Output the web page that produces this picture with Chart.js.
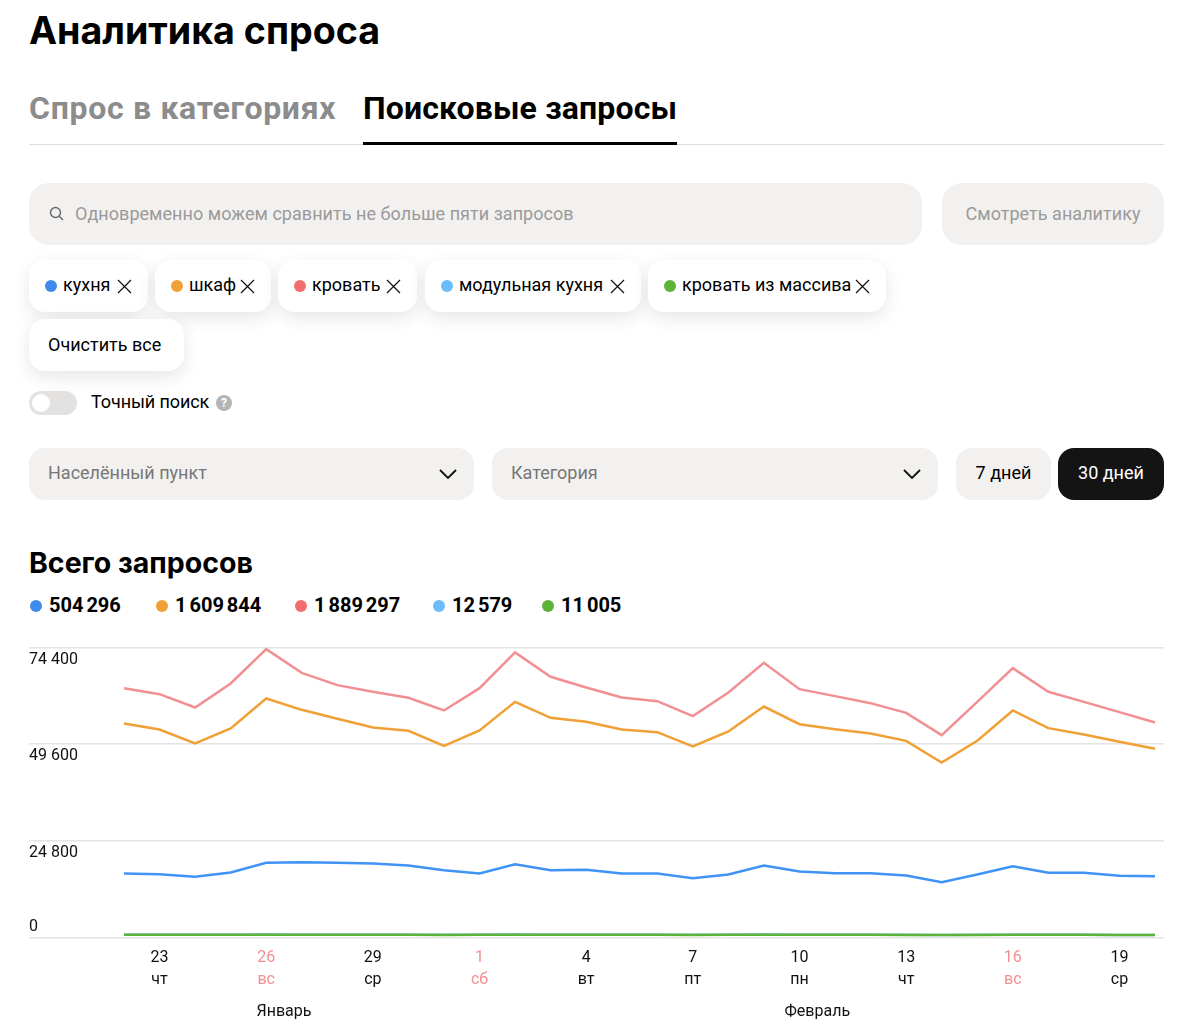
<!DOCTYPE html>
<html lang="ru">
<head>
<meta charset="utf-8">
<title>Аналитика спроса</title>
<script src="https://cdn.jsdelivr.net/npm/chart.js@4"></script>
<style>
    html, body { margin: 0; padding: 0; background: #fff; }
    body { position: relative; width: 1200px; height: 1033px; overflow: hidden; font-family: Roboto, sans-serif; color: #000; }
    .abs { position: absolute; white-space: nowrap; }
    .title { left: 29px; top: 8px; font-family: Inter, sans-serif; font-size: 37.6px; font-weight: 700; line-height: 46px; }
    .tab { top: 88px; font-size: 32px; font-weight: 700; line-height: 40px; }
    .box { background: #f2f1ef; border-radius: 20px; color: #9a9a9a; font-size: 18px; letter-spacing: .04px; display: flex; align-items: center; box-sizing: border-box; padding-bottom: 2px; }
    .chip { background: #fff; border-radius: 16px; box-shadow: 0 6px 18px rgba(0,0,0,.10); height: 52px; display: flex; align-items: center; font-size: 18px; box-sizing: border-box; padding: 0 16px 3px 16px; }
    .dot { width: 12px; height: 12px; border-radius: 50%; display: inline-block; }
    .chip .dot { margin-right: 6px; margin-top: 3px; }
    .chip svg { margin-left: auto; margin-top: 3px; }
    .select { background: #f2f1ef; border-radius: 16px; top: 448px; height: 52px; color: #777; font-size: 18px; display: flex; align-items: center; justify-content: space-between; box-sizing: border-box; padding: 0 17px 3px 19px; }
    .select svg { margin-top: 3px; }
    .period { top: 448px; height: 52px; border-radius: 16px; font-size: 18px; display: flex; align-items: center; justify-content: center; box-sizing: border-box; padding-bottom: 3px; }
    .total { top: 592px; font-size: 20px; font-weight: 700; line-height: 26px; word-spacing: -2px; }
    #chart-wrap { position: absolute; left: 29px; top: 630px; width: 1135px; height: 403px; }
</style>
</head>
<body>
<div class="abs title">Аналитика спроса</div>
<div class="abs tab" style="left:29px;color:#8c8c8c;letter-spacing:.7px">Спрос в категориях</div>
<div class="abs tab" style="left:363px;letter-spacing:.15px">Поисковые запросы</div>
<div class="abs" style="left:29px;top:144px;width:1135px;height:1px;background:#dcdcdc"></div>
<div class="abs" style="left:363px;top:142px;width:314px;height:3px;background:#000"></div>

<div class="abs box" style="left:29px;top:183px;width:893px;height:62px;padding-left:20px">
    <svg width="15" height="15" viewBox="0 0 15 15" fill="none" stroke="#666" stroke-width="1.4"><circle cx="6.5" cy="6.5" r="5"/><path d="M10.2 10.2 L14 14"/></svg>
    <span style="margin-left:11px">Одновременно можем сравнить не больше пяти запросов</span>
</div>
<div class="abs box" style="left:942px;top:183px;width:222px;height:62px;justify-content:center">Смотреть аналитику</div>

<div id="chips"></div>
<div class="abs chip" style="left:29px;top:319px;width:155px;padding:0 0 1px 19px">Очистить все</div>

<div class="abs" style="left:29px;top:391px;width:48px;height:24px;border-radius:12px;background:#e3e2e0"></div>
<div class="abs" style="left:32px;top:394px;width:18px;height:18px;border-radius:50%;background:#fff"></div>
<div class="abs" style="left:91px;top:391px;font-size:18px;line-height:22px;letter-spacing:-.1px">Точный поиск</div>
<div class="abs" style="left:216px;top:395px;width:16px;height:16px;border-radius:50%;background:#b5b5b5;color:#fff;font-size:12px;font-weight:700;line-height:16px;text-align:center">?</div>

<div class="abs select" style="left:29px;width:445px">Населённый пункт
    <svg width="18" height="10" viewBox="0 0 18 10" fill="none" stroke="#111" stroke-width="1.8"><path d="M1 1 L9 9 L17 1"/></svg>
</div>
<div class="abs select" style="left:492px;width:446px">Категория
    <svg width="18" height="10" viewBox="0 0 18 10" fill="none" stroke="#111" stroke-width="1.8"><path d="M1 1 L9 9 L17 1"/></svg>
</div>
<div class="abs period" style="left:956px;width:95px;background:#f2f1ef">7 дней</div>
<div class="abs period" style="left:1058px;width:106px;background:#141414;color:#fff">30 дней</div>

<div class="abs" style="left:29px;top:545px;font-family:Inter,sans-serif;font-size:28.5px;font-weight:700;line-height:36px">Всего запросов</div>
<div id="totals"></div>

<div id="chart-wrap"><canvas id="chart"></canvas></div>

<script>
const dates = ["22", "23", "24", "25", "26", "27", "28", "29", "30", "31", "1", "2", "3", "4", "5", "6", "7", "8", "9", "10", "11", "12", "13", "14", "15", "16", "17", "18", "19", "20"];
const weekdays = ["ср", "чт", "пт", "сб", "вс", "пн", "вт", "ср", "чт", "пт", "сб", "вс", "пн", "вт", "ср", "чт", "пт", "сб", "вс", "пн", "вт", "ср", "чт", "пт", "сб", "вс", "пн", "вт", "ср", "чт"];
const tickIndexes = [1, 4, 7, 10, 13, 16, 19, 22, 25, 28];
const redTicks = [4, 10, 25];
const months = ["Январь", "Февраль"];
const monthPositions = [4.5, 19.5];

const queries = ["кухня", "шкаф", "кровать", "модульная кухня", "кровать из массива"];
const totals = ["504 296", "1 609 844", "1 889 297", "12 579", "11 005"];
const dotColors = ["#3f8bec", "#f0a035", "#f26d6d", "#6bbcfb", "#5db336"];

const kitchen = [16420, 16250, 15560, 16680, 19160, 19330, 19160, 18990, 18470, 17280, 16420, 18810, 17280, 17360, 16420, 16420, 15220, 16160, 18470, 16930, 16510, 16510, 15910, 14200, 16160, 18300, 16590, 16590, 15820, 15740];
const wardrobe = [54900, 53360, 49770, 53620, 61320, 58410, 56100, 53880, 53020, 49170, 53110, 60460, 56360, 55330, 53360, 52680, 49000, 52850, 59260, 54730, 53450, 52340, 50460, 44900, 50460, 58240, 53710, 52080, 50200, 48400];
const bed = [63970, 62430, 59010, 65170, 73975, 67900, 64740, 63030, 61490, 58240, 63970, 73120, 66880, 64140, 61570, 60630, 56790, 62860, 70470, 63710, 61920, 60120, 57640, 51910, 60460, 69100, 63030, 60460, 57810, 55160];
const modularKitchen = [720, 700, 690, 700, 740, 730, 730, 720, 720, 680, 700, 740, 710, 710, 690, 690, 680, 700, 740, 720, 710, 700, 680, 650, 680, 720, 700, 690, 670, 640];
const solidBed = [710, 690, 680, 690, 730, 720, 720, 710, 700, 670, 690, 730, 700, 700, 680, 680, 670, 690, 730, 710, 700, 690, 670, 640, 670, 710, 690, 680, 660, 630];

const yTicks = [0, 24800, 49600, 74400];

// chips and totals above the chart
const chipLefts = [29, 155, 278, 425, 648];
const chipWidths = [119, 116, 139, 216, 238];
const totalLefts = [30, 156, 295, 433, 542];
const crossIcon = '<svg width="15" height="15" viewBox="0 0 15 15" fill="none" stroke="#111" stroke-width="1.2"><path d="M1 1 L14 14 M14 1 L1 14"/></svg>';

document.getElementById("chips").innerHTML = queries.map((q, i) =>
    `<div class="abs chip" style="left:${chipLefts[i]}px;top:260px;width:${chipWidths[i]}px"><span class="dot" style="background:${dotColors[i]}"></span>${q}${crossIcon}</div>`
).join("");
document.getElementById("totals").innerHTML = totals.map((t, i) =>
    `<div class="abs total" style="left:${totalLefts[i]}px"><span class="dot" style="background:${dotColors[i]};margin-right:7px"></span>${t}</div>`
).join("");

function toPoints(values) {
    return values.map((v, i) => ({ x: i, y: v }));
}

function lineDataset(values, color) {
    return {
        data: toPoints(values),
        borderColor: color,
        borderWidth: 2.5,
        pointRadius: 0,
        tension: 0,
        borderJoinStyle: "miter",
    };
}

const xMin = -2.672;
const xMax = 29.253;

new Chart(document.getElementById("chart"), {
    type: "line",
    data: {
        // first dataset is painted last, green has to stay on top of light blue
        datasets: [
            lineDataset(solidBed, "#5db336"),
            lineDataset(modularKitchen, "#6bbcfb"),
            lineDataset(bed, "#f28f92"),
            lineDataset(wardrobe, "#f0a035"),
            lineDataset(kitchen, "#3f93f5"),
        ],
    },
    options: {
        responsive: true,
        maintainAspectRatio: false,
        animation: false,
        layout: { padding: { top: 17.5 } },
        plugins: { legend: { display: false }, tooltip: { enabled: false } },
        scales: {
            x: {
                type: "linear",
                min: xMin,
                max: xMax,
                grid: { display: false },
                border: { display: false },
                afterBuildTicks: (scale) => {
                    scale.ticks = tickIndexes.map((v) => ({ value: v }));
                },
                afterFit: (scale) => {
                    scale.height = 54;
                },
                ticks: {
                    autoSkip: false,
                    maxRotation: 0,
                    padding: 1,
                    font: { family: "Roboto, sans-serif", size: 16, lineHeight: 1.375 },
                    color: (ctx) => (redTicks.includes(ctx.tick.value) ? "#f28f92" : "#111"),
                    callback: (value) => [dates[value], weekdays[value]],
                },
            },
            month: {
                type: "linear",
                position: "bottom",
                axis: "x",
                min: xMin,
                max: xMax,
                grid: { display: false },
                border: { display: false },
                afterBuildTicks: (scale) => {
                    scale.ticks = monthPositions.map((v) => ({ value: v }));
                },
                afterFit: (scale) => {
                    scale.height = 41.5;
                },
                ticks: {
                    autoSkip: false,
                    maxRotation: 0,
                    padding: 3,
                    font: { family: "Roboto, sans-serif", size: 16 },
                    color: "#111",
                    callback: (value) => months[monthPositions.indexOf(value)],
                },
            },
            y: {
                min: 0,
                max: 74400,
                afterBuildTicks: (scale) => {
                    scale.ticks = yTicks.map((v) => ({ value: v }));
                },
                afterFit: (scale) => {
                    scale.paddingTop = 0;
                    scale.paddingBottom = 0;
                },
                grid: { color: "#e4e4e4", lineWidth: 1.5, drawTicks: false },
                border: { display: false },
                ticks: {
                    mirror: true,
                    padding: 0,
                    labelOffset: 0.6,
                    font: { family: "Roboto, sans-serif", size: 16, lineHeight: 1.44 },
                    color: "#111",
                    // empty line puts the label under its grid line, 0 stays above the axis
                    callback: (value) => {
                        const text = value.toLocaleString("ru-RU").replace(/\s/g, " ");
                        return value === 0 ? [text, ""] : ["", text];
                    },
                },
            },
        },
    },
});
</script>
</body>
</html>
